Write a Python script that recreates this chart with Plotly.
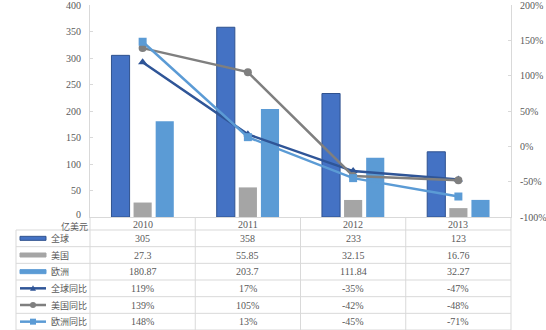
import plotly.graph_objects as go

years = ["2010", "2011", "2012", "2013"]
global_vals = [305, 358, 233, 123]
us_vals = [27.3, 55.85, 32.15, 16.76]
eu_vals = [180.87, 203.7, 111.84, 32.27]
global_yoy = [1.19, 0.17, -0.35, -0.47]
us_yoy = [1.39, 1.05, -0.42, -0.48]
eu_yoy = [1.48, 0.13, -0.45, -0.71]

global_txt = ["305", "358", "233", "123"]
us_txt = ["27.3", "55.85", "32.15", "16.76"]
eu_txt = ["180.87", "203.7", "111.84", "32.27"]
global_yoy_txt = ["119%", "17%", "-35%", "-47%"]
us_yoy_txt = ["139%", "105%", "-42%", "-48%"]
eu_yoy_txt = ["148%", "13%", "-45%", "-71%"]

unit_label = "亿美元"
row_names = ["全球", "美国", "欧洲", "全球同比", "美国同比", "欧洲同比"]

left_ticks = [0, 50, 100, 150, 200, 250, 300, 350, 400]
right_ticks = [-1.0, -0.5, 0.0, 0.5, 1.0, 1.5, 2.0]
right_tick_txt = ["-100%", "-50%", "0%", "50%", "100%", "150%", "200%"]

C_GLOBAL = "#4472C4"
C_GLOBAL_EDGE = "#2F528F"
C_US = "#A5A5A5"
C_EU = "#5B9BD5"
C_GLOBAL_L = "#2F5597"
C_US_L = "#7F7F7F"
C_EU_L = "#5B9BD5"
GRID = "#D9D9D9"
TXT = "#595959"
FONT = "Liberation Serif, Noto Sans CJK SC, serif"
CJK = "Noto Sans CJK SC, sans-serif"

W, H = 546, 330
L, R, T, B = 90, 35, 5, 113
PW, PH = W - L - R, H - T - B


def xp(p):
    return (p - L) / PW


def yp(q):
    return (T + PH - q) / PH


fig = go.Figure()
fig.add_trace(go.Bar(x=years, y=global_vals, name="全球",
                     marker=dict(color=C_GLOBAL, line=dict(color=C_GLOBAL_EDGE, width=1))))
fig.add_trace(go.Bar(x=years, y=us_vals, name="美国",
                     marker=dict(color=C_US, line=dict(width=0))))
fig.add_trace(go.Bar(x=years, y=eu_vals, name="欧洲",
                     marker=dict(color=C_EU, line=dict(width=0))))
fig.add_trace(go.Scatter(x=years, y=global_yoy, yaxis="y2", mode="lines+markers", name="全球同比",
                         line=dict(color=C_GLOBAL_L, width=2.5),
                         marker=dict(symbol="triangle-up", size=8, color=C_GLOBAL_L)))
fig.add_trace(go.Scatter(x=years, y=us_yoy, yaxis="y2", mode="lines+markers", name="美国同比",
                         line=dict(color=C_US_L, width=2.5),
                         marker=dict(symbol="circle", size=8, color=C_US_L)))
fig.add_trace(go.Scatter(x=years, y=eu_yoy, yaxis="y2", mode="lines+markers", name="欧洲同比",
                         line=dict(color=C_EU_L, width=2.5),
                         marker=dict(symbol="square", size=8, color=C_EU_L)))

shapes = []
annotations = []

# axis tick labels (placed by the axes' own scales)
for v in left_ticks:
    annotations.append(dict(xref="paper", yref="y", x=0, y=v, text=str(v), xshift=-7,
                            yshift=(3 if v == 0 else 0),
                            showarrow=False, xanchor="right", yanchor="middle",
                            font=dict(size=10, color=TXT, family=FONT)))
for v, t in zip(right_ticks, right_tick_txt):
    annotations.append(dict(xref="paper", yref="y2", x=1, y=v, text=t, xshift=7,
                            showarrow=False, xanchor="left", yanchor="middle",
                            font=dict(size=10, color=TXT, family=FONT)))

row_top = T + PH + 13
row_h = (H - row_top) / 6.0
for i in range(7):
    q = row_top + i * row_h
    shapes.append(dict(type="line", xref="paper", yref="paper",
                       x0=xp(16), x1=1.0, y0=yp(q), y1=yp(q),
                       line=dict(color=GRID, width=1)))
shapes.append(dict(type="line", xref="paper", yref="paper",
                   x0=xp(16), x1=xp(16), y0=yp(row_top), y1=yp(H),
                   line=dict(color=GRID, width=1)))
ncat = len(years)
for k in range(ncat + 1):
    shapes.append(dict(type="line", xref="paper", yref="paper",
                       x0=k / ncat, x1=k / ncat, y0=0, y1=yp(H),
                       line=dict(color=GRID, width=1)))


def cat_x(j):
    return (j + 0.5) / ncat


annotations.append(dict(xref="paper", yref="paper", x=xp(90), y=yp(226), text=unit_label,
                        showarrow=False, xanchor="right", yanchor="middle",
                        font=dict(size=9, color=TXT, family=CJK)))
for j, yr in enumerate(years):
    annotations.append(dict(xref="paper", yref="paper", x=cat_x(j), y=yp(224.5), text=yr,
                            showarrow=False, xanchor="center", yanchor="middle",
                            font=dict(size=10, color=TXT, family=FONT)))

rows = [global_txt, us_txt, eu_txt, global_yoy_txt, us_yoy_txt, eu_yoy_txt]
for i, (name, vals) in enumerate(zip(row_names, rows)):
    qc = row_top + (i + 0.5) * row_h
    annotations.append(dict(xref="paper", yref="paper", x=xp(49), y=yp(qc), text=name,
                            showarrow=False, xanchor="left", yanchor="middle",
                            font=dict(size=9, color=TXT, family=CJK)))
    for j, v in enumerate(vals):
        annotations.append(dict(xref="paper", yref="paper", x=cat_x(j), y=yp(qc), text=v,
                                showarrow=False, xanchor="center", yanchor="middle",
                                font=dict(size=10, color=TXT, family=FONT)))
    if i < 3:
        col = [C_GLOBAL, C_US, C_EU][i]
        edge = [C_GLOBAL_EDGE, C_US, C_EU][i]
        shapes.append(dict(type="rect", xref="paper", yref="paper",
                           x0=xp(20), x1=xp(46), y0=yp(qc - 2), y1=yp(qc + 2),
                           fillcolor=col, line=dict(color=edge, width=1)))
    else:
        col = [C_GLOBAL_L, C_US_L, C_EU_L][i - 3]
        shapes.append(dict(type="line", xref="paper", yref="paper",
                           x0=xp(20), x1=xp(46), y0=yp(qc), y1=yp(qc),
                           line=dict(color=col, width=2.5)))
        cx = 33
        if i == 3:
            path = "M {},{} L {},{} L {},{} Z".format(xp(cx - 3), yp(qc + 2.5), xp(cx + 3), yp(qc + 2.5), xp(cx), yp(qc - 3))
            shapes.append(dict(type="path", xref="paper", yref="paper", path=path,
                               fillcolor=col, line=dict(color=col, width=0)))
        elif i == 4:
            shapes.append(dict(type="circle", xref="paper", yref="paper",
                               x0=xp(cx - 3), x1=xp(cx + 3), y0=yp(qc - 3), y1=yp(qc + 3),
                               fillcolor=col, line=dict(color=col, width=0)))
        else:
            shapes.append(dict(type="rect", xref="paper", yref="paper",
                               x0=xp(cx - 3), x1=xp(cx + 3), y0=yp(qc - 3), y1=yp(qc + 3),
                               fillcolor=col, line=dict(color=col, width=0)))

fig.update_layout(
    width=W, height=H,
    margin=dict(l=L, r=R, t=T, b=B, pad=0),
    paper_bgcolor="white", plot_bgcolor="white",
    showlegend=False,
    barmode="group", bargap=0.37, bargroupgap=0.18,
    font=dict(family=FONT, size=10, color=TXT),
    xaxis=dict(type="category", range=[-0.5, 3.5], showticklabels=False, showgrid=False,
               zeroline=False, showline=True, linecolor=GRID, linewidth=1, ticks=""),
    yaxis=dict(range=[0, 400], tickmode="array", tickvals=left_ticks, showticklabels=False,
               showgrid=False, zeroline=False,
               showline=True, linecolor=GRID, linewidth=1, ticks="inside", ticklen=3,
               tickcolor=GRID),
    yaxis2=dict(range=[-1, 2], tickmode="array", tickvals=right_ticks, showticklabels=False,
                overlaying="y", side="right",
                showgrid=False, zeroline=False, showline=True, linecolor=GRID, linewidth=1,
                ticks="inside", ticklen=3, tickcolor=GRID),
    shapes=shapes,
    annotations=annotations,
)

fig.write_html("out.html")
